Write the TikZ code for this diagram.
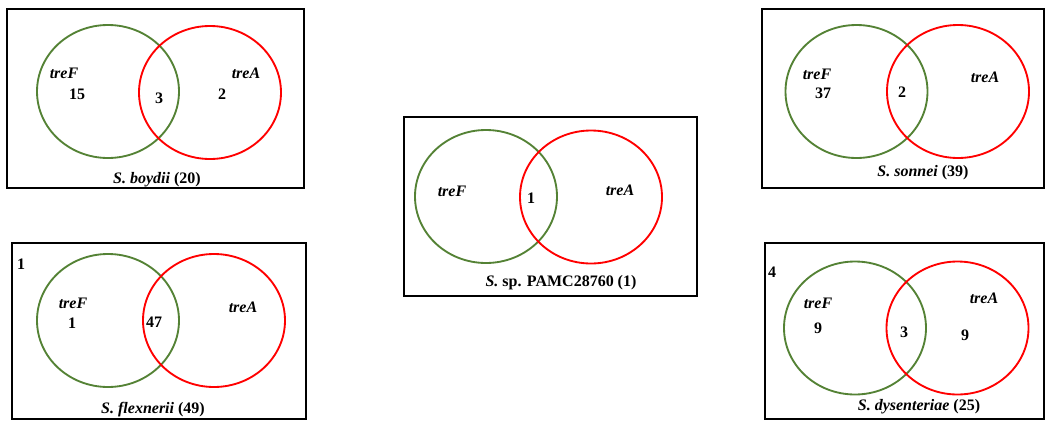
\documentclass[tikz,border=0pt]{standalone}
\usepackage{fontspec}
\setmainfont{Liberation Serif}
\usetikzlibrary{shapes.geometric}
\definecolor{genegreen}{RGB}{84,130,53}
\definecolor{genered}{RGB}{255,0,0}
\tikzset{
  panel/.style={draw=black, line width=1.5pt},
  setF/.style={ellipse, draw=genegreen, line width=1.4pt, minimum width=106.5pt, minimum height=99.75pt, inner sep=0pt},
  setA/.style={ellipse, draw=genered, line width=1.4pt, minimum width=106.5pt, minimum height=99.75pt, inner sep=0pt},
  lbl/.style={inner sep=0pt, font=\fontsize{12}{14}\selectfont\bfseries},
  gene/.style={lbl, font=\fontsize{12}{14}\selectfont\bfseries\itshape},
}
\begin{document}
\begin{tikzpicture}[x=0.75pt,y=-0.75pt]
\useasboundingbox (0,0) rectangle (1049,422);

% S. boydii
\draw[panel] (7,9) rectangle (304,188);
\node[setF] (bF) at (108,91.5) {};
\node[setA] (bA) at (210,92.5) {};
\node[gene] (bFt) at (64,73) {treF};
\node[gene] (bAt) at (246,73) {treA};
\node[lbl] (bFn) at (77,94) {15};
\node[lbl] (bFA) at (159,98) {3};
\node[lbl] (bAn) at (222,94) {2};
\node[lbl] (bName) at (157,180) {\textit{S. boydii} (20)};

% S. sp. PAMC28760
\draw[panel] (404,117) rectangle (697,296);
\node[setF] (pF) at (486,196.5) {};
\node[setA] (pA) at (591,197) {};
\node[gene] (pFt) at (452,191) {treF};
\node[gene] (pAt) at (620,190) {treA};
\node[lbl] (pFA) at (531,198) {1};
\node[lbl] (pName) at (561,283) {\textit{S.} sp. PAMC28760 (1)};

% S. sonnei
\draw[panel] (762,9) rectangle (1044,188);
\node[setF] (sF) at (856.5,91.5) {};
\node[setA] (sA) at (958,91.5) {};
\node[gene] (sFt) at (817,74) {treF};
\node[gene] (sAt) at (985,77) {treA};
\node[lbl] (sFn) at (823,93) {37};
\node[lbl] (sFA) at (902,92) {2};
\node[lbl] (sName) at (923,173) {\textit{S. sonnei} (39)};

% S. flexnerii
\draw[panel] (12,243) rectangle (306,419);
\node[setF] (fF) at (108,320.5) {};
\node[setA] (fA) at (214,320.5) {};
\node[lbl] (fOut) at (21,264) {1};
\node[gene] (fFt) at (73,303) {treF};
\node[gene] (fAt) at (243,307) {treA};
\node[lbl] (fFn) at (72,323) {1};
\node[lbl] (fFA) at (154,322) {47};
\node[lbl] (fName) at (153,410) {\textit{S. flexnerii} (49)};

% S. dysenteriae
\draw[panel] (765,243) rectangle (1044,419);
\node[setF] (dF) at (855,328) {};
\node[setA] (dA) at (957.5,328) {};
\node[lbl] (dOut) at (772,272) {4};
\node[gene] (dFt) at (818,303) {treF};
\node[gene] (dAt) at (984,298) {treA};
\node[lbl] (dFn) at (818,328) {9};
\node[lbl] (dFA) at (904,332) {3};
\node[lbl] (dAn) at (965,335) {9};
\node[lbl] (dName) at (919,407) {\textit{S. dysenteriae} (25)};
\end{tikzpicture}
\end{document}
